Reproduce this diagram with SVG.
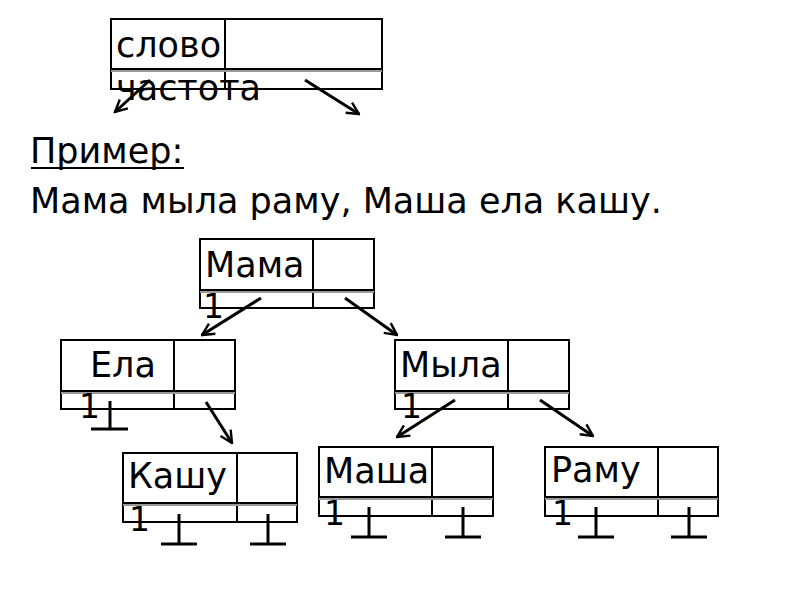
<svg xmlns="http://www.w3.org/2000/svg" width="800" height="600" viewBox="0 0 800 600">
<defs>
<style>
text{font-family:"DejaVu Sans","Noto Sans",sans-serif;fill:#000}
.big{font-size:35px}
.lab{font-size:35px}
.one{font-size:33px}
.box{fill:#fff;stroke:#000;stroke-width:2}
.ln{stroke:#000;stroke-width:2;fill:none}
.sh{stroke:#999;stroke-width:2;fill:none}
.arr{stroke:#000;stroke-width:3;fill:none;marker-end:url(#ah)}
.nul{stroke:#000;stroke-width:3;fill:none}
</style>
<marker id="ah" viewBox="0 0 10 10" refX="9" refY="5" markerWidth="5" markerHeight="5" orient="auto" markerUnits="strokeWidth">
<path d="M1,1 L9,5 L1,9" fill="none" stroke="#000" stroke-width="1.6"/>
</marker>
</defs>
<rect width="800" height="600" fill="#fff"/>
<g id="legend">
<rect class="box" x="111" y="19" width="271" height="70"/>
<line class="ln" x1="225" y1="19" x2="225" y2="89"/>
<line class="ln" x1="111" y1="69" x2="382" y2="69"/>
<line class="sh" x1="111" y1="71" x2="382" y2="71"/>
<text class="big" x="116" y="57">слово</text>
<text class="big" x="116" y="100">частота</text>
</g>
<g id="example">
<text class="lab" x="30" y="163">Пример:</text>
<line class="ln" x1="31" y1="168" x2="184" y2="168"/>
<text class="lab" x="30" y="213">Мама мыла раму, Маша ела кашу.</text>
</g>
<g id="n-mama">
<rect class="box" x="200" y="239" width="174" height="69"/>
<line class="ln" x1="313" y1="239" x2="313" y2="308"/>
<line class="ln" x1="200" y1="290" x2="374" y2="290"/>
<line class="sh" x1="200" y1="292" x2="374" y2="292"/>
<text class="lab" x="205" y="277">Мама</text>
<text class="one" x="203" y="318">1</text>
</g>
<g id="n-ela">
<rect class="box" x="61" y="340" width="174" height="69"/>
<line class="ln" x1="174" y1="340" x2="174" y2="409"/>
<line class="ln" x1="61" y1="391" x2="235" y2="391"/>
<line class="sh" x1="61" y1="393" x2="235" y2="393"/>
<text class="lab" x="90" y="377">Ела</text>
<text class="one" x="79" y="418">1</text>
<line class="nul" x1="110" y1="401" x2="110" y2="429"/>
<line class="nul" x1="91" y1="429" x2="128" y2="429"/>
</g>
<g id="n-myla">
<rect class="box" x="395" y="340" width="174" height="69"/>
<line class="ln" x1="508" y1="340" x2="508" y2="409"/>
<line class="ln" x1="395" y1="391" x2="569" y2="391"/>
<line class="sh" x1="395" y1="393" x2="569" y2="393"/>
<text class="lab" x="400" y="377">Мыла</text>
<text class="one" x="401" y="418">1</text>
</g>
<g id="n-kashu">
<rect class="box" x="123" y="453" width="174" height="69"/>
<line class="ln" x1="237" y1="453" x2="237" y2="522"/>
<line class="ln" x1="123" y1="503" x2="297" y2="503"/>
<line class="sh" x1="123" y1="505" x2="297" y2="505"/>
<text class="lab" x="128" y="488">Кашу</text>
<text class="one" x="129" y="531">1</text>
<line class="nul" x1="179" y1="514" x2="179" y2="544"/>
<line class="nul" x1="161" y1="544" x2="197" y2="544"/>
<line class="nul" x1="268" y1="514" x2="268" y2="544"/>
<line class="nul" x1="250" y1="544" x2="286" y2="544"/>
</g>
<g id="n-masha">
<rect class="box" x="319" y="447" width="174" height="69"/>
<line class="ln" x1="432" y1="447" x2="432" y2="516"/>
<line class="ln" x1="319" y1="497" x2="493" y2="497"/>
<line class="sh" x1="319" y1="499" x2="493" y2="499"/>
<text class="lab" x="324" y="483">Маша</text>
<text class="one" x="324" y="525">1</text>
<line class="nul" x1="369" y1="507" x2="369" y2="537"/>
<line class="nul" x1="351" y1="537" x2="387" y2="537"/>
<line class="nul" x1="463" y1="507" x2="463" y2="537"/>
<line class="nul" x1="445" y1="537" x2="481" y2="537"/>
</g>
<g id="n-ramu">
<rect class="box" x="545" y="447" width="173" height="69"/>
<line class="ln" x1="658" y1="447" x2="658" y2="516"/>
<line class="ln" x1="545" y1="497" x2="718" y2="497"/>
<line class="sh" x1="545" y1="499" x2="718" y2="499"/>
<text class="lab" x="551" y="482">Раму</text>
<text class="one" x="552" y="525">1</text>
<line class="nul" x1="596" y1="507" x2="596" y2="537"/>
<line class="nul" x1="578" y1="537" x2="614" y2="537"/>
<line class="nul" x1="689" y1="507" x2="689" y2="537"/>
<line class="nul" x1="671" y1="537" x2="707" y2="537"/>
</g>
<g id="connectors">
<line class="arr" x1="150" y1="80" x2="115" y2="112"/>
<line class="arr" x1="305" y1="80" x2="359" y2="114"/>
<line class="arr" x1="261" y1="298" x2="202" y2="335"/>
<line class="arr" x1="345" y1="298" x2="397" y2="335"/>
<line class="arr" x1="206" y1="402" x2="232" y2="443"/>
<line class="arr" x1="455" y1="400" x2="397" y2="437"/>
<line class="arr" x1="540" y1="400" x2="593" y2="436"/>
</g>
</svg>
